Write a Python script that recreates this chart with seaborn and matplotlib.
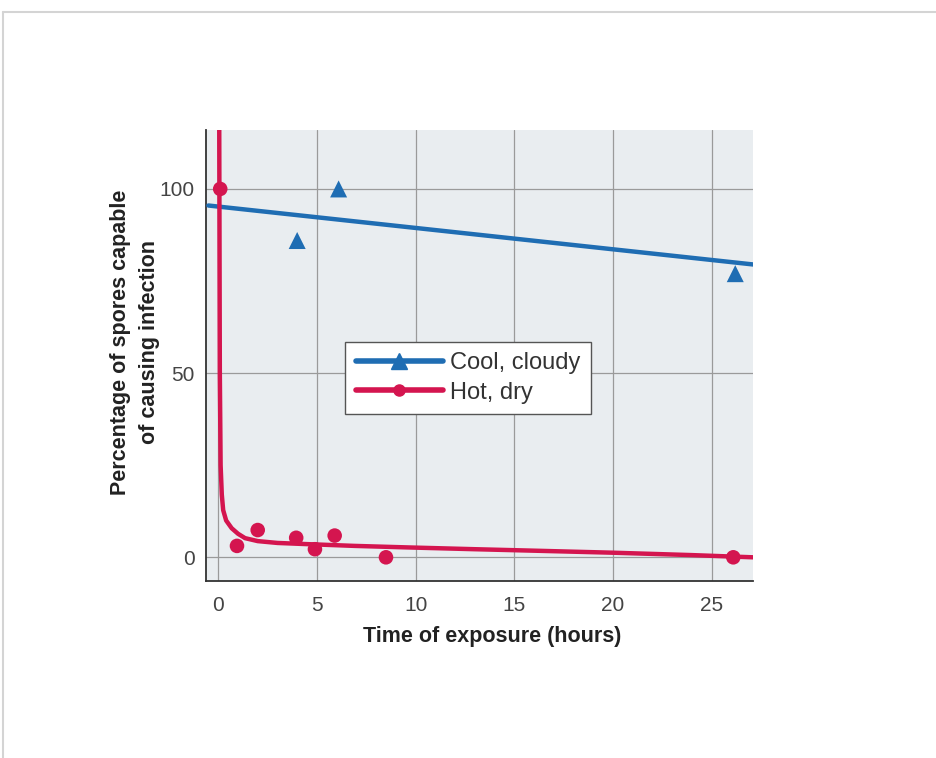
import matplotlib
matplotlib.use("Agg")
import matplotlib.pyplot as plt
import seaborn as sns
from matplotlib.lines import Line2D

# measured points
cool_hours = [4.0, 6.1, 26.2]
cool_pct = [86, 100, 77]
hot_hours = [0.1, 0.95, 2.0, 3.95, 4.9, 5.9, 8.5, 26.1]
hot_pct = [100, 3.1, 7.4, 5.3, 2.2, 5.9, 0.0, 0.0]

# trend lines as drawn in the figure
cool_fit_hours = [-0.5, 27.1]
cool_fit_pct = [95.5, 79.5]
hot_fit_hours = [0.05, 0.08, 0.12, 0.18, 0.25, 0.4, 0.68, 1.0, 1.36, 2.0, 3.0,
                 4.4, 6.9, 9.5, 13, 16, 20, 24, 27.1]
hot_fit_pct = [118, 50, 25, 17, 12.8, 10, 7.9, 6.4, 5.2, 4.4, 3.9,
               3.6, 3.1, 2.7, 2.2, 1.8, 1.25, 0.6, 0.0]

x_ticks = [0, 5, 10, 15, 20, 25]
y_ticks = [0, 50, 100]

blue = "#1f6db3"
red = "#d4154f"

sns.set_style("white")
plt.rcParams["font.family"] = ["Liberation Sans", "DejaVu Sans"]

fig = plt.figure(figsize=(9.36, 7.58), dpi=100)
ax = fig.add_axes([0.2201, 0.2339, 0.5844, 0.5946])
ax.set_facecolor("#e9edf0")

sns.lineplot(x=cool_fit_hours, y=cool_fit_pct, ax=ax, color=blue, lw=3.2,
             sort=False, estimator=None, zorder=3)
sns.lineplot(x=hot_fit_hours, y=hot_fit_pct, ax=ax, color=red, lw=3.2,
             sort=False, estimator=None, zorder=3)
sns.scatterplot(x=cool_hours, y=cool_pct, ax=ax, color=blue, marker="^", s=150,
                edgecolor="none", zorder=4)
sns.scatterplot(x=hot_hours, y=hot_pct, ax=ax, color=red, marker="o", s=110,
                edgecolor="none", zorder=4)

ax.set_xlim(-0.62, 27.1)
ax.set_ylim(-6.35, 116)
ax.set_xticks(x_ticks)
ax.set_yticks(y_ticks)
ax.grid(True, color="#9a9a9a", lw=0.9)
ax.set_axisbelow(True)
for s in ["top", "right"]:
    ax.spines[s].set_visible(False)
for s in ["left", "bottom"]:
    ax.spines[s].set_color("#333333")
    ax.spines[s].set_linewidth(1.3)
ax.tick_params(axis="x", direction="in", length=9, width=1.3, color="#333333",
               labelsize=15, labelcolor="#444444", pad=11)
ax.tick_params(axis="y", length=0, labelsize=15, labelcolor="#444444", pad=8)

ax.set_xlabel("Time of exposure (hours)", fontsize=15.5, fontweight="semibold",
              color="#222222")
ax.xaxis.set_label_coords(0.523, -0.1)
ax.set_ylabel("Percentage of spores capable\nof causing infection", fontsize=15.5,
              fontweight="semibold", color="#222222", linespacing=1.45)
ax.yaxis.set_label_coords(-0.085, 0.53)

handles = [
    Line2D([], [], color=blue, lw=4, marker="^", markersize=11),
    Line2D([], [], color=red, lw=4, marker="o", markersize=8),
]
leg = ax.legend(handles, ["Cool, cloudy", "Hot, dry"], loc="upper left",
                bbox_to_anchor=(0.254, 0.53), fontsize=17, handlelength=3.7,
                fancybox=False, framealpha=1, edgecolor="#555555",
                borderpad=0.45, labelspacing=0.3, handletextpad=0.3,
                borderaxespad=0)
leg.get_frame().set_linewidth(1.0)
for t in leg.get_texts():
    t.set_color("#333333")

# faint frame around the figure panel
fig.add_artist(Line2D([0.003, 1.0], [0.984, 0.984], color="#d4d4d4", lw=1.5,
                      transform=fig.transFigure))
fig.add_artist(Line2D([0.003, 0.003], [0.0, 0.984], color="#d4d4d4", lw=1.5,
                      transform=fig.transFigure))

fig.savefig("out.png", dpi=100)
